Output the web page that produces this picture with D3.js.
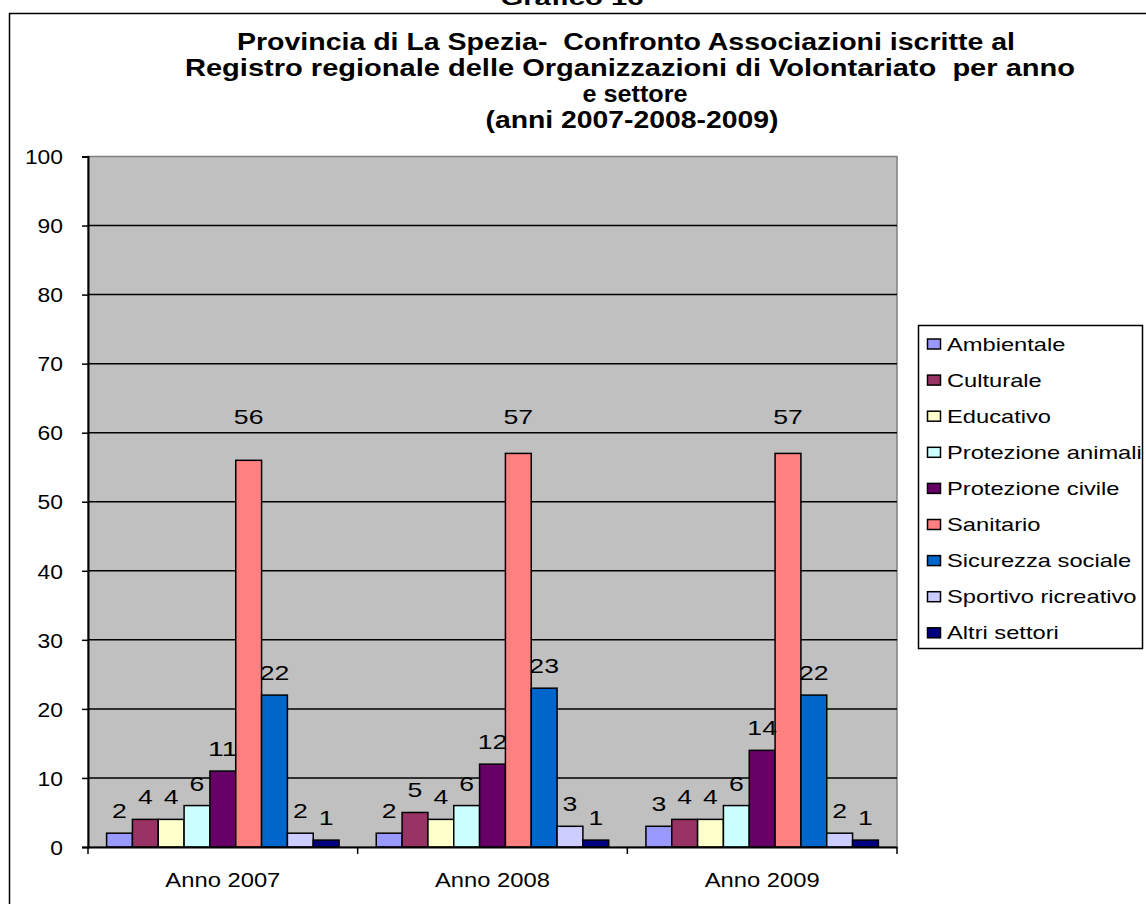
<!DOCTYPE html>
<html>
<head>
<meta charset="utf-8">
<script src="https://cdn.jsdelivr.net/npm/d3@7"></script>
<style>
  body { margin: 0; background: #fff; }
  text { font-family: "Liberation Sans", Arial, sans-serif; fill: #000; white-space: pre; }
</style>
</head>
<body>
<div id="chart"></div>
<script>
// data
const years = ["Anno 2007", "Anno 2008", "Anno 2009"];
const sectors = ["Ambientale", "Culturale", "Educativo", "Protezione animali",
    "Protezione civile", "Sanitario", "Sicurezza sociale", "Sportivo ricreativo", "Altri settori"];
const colors = ["#9999FF", "#993366", "#FFFFCC", "#CCFFFF", "#660066",
    "#FF8080", "#0066CC", "#CCCCFF", "#000080"];
const values2007 = [2, 4, 4, 6, 11, 56, 22, 2, 1];
const values2008 = [2, 5, 4, 6, 12, 57, 23, 3, 1];
const values2009 = [3, 4, 4, 6, 14, 57, 22, 2, 1];
const yTicks = [0, 10, 20, 30, 40, 50, 60, 70, 80, 90, 100];
const titleLines = ["Provincia di La Spezia-  Confronto Associazioni iscritte al",
    "Registro regionale delle Organizzazioni di Volontariato  per anno",
    "e settore",
    "(anni 2007-2008-2009)"];

const allValues = [values2007, values2008, values2009];
const rows = [];
years.forEach((yr, i) => sectors.forEach((s, j) => rows.push({ year: yr, sector: s, value: allValues[i][j], idx: j })));

const W = 1146, H = 904;
const plot = { left: 88, right: 897, top: 156.5, bottom: 847 };

const svg = d3.select("#chart").append("svg")
    .attr("width", W)
    .attr("height", H);

// stretch text horizontally like the source image
function stretch(sel, k) {
    sel.each(function () {
        const L = this.getComputedTextLength();
        d3.select(this).attr("textLength", L * k).attr("lengthAdjust", "spacingAndGlyphs");
    });
}
function fitTo(sel, widths) {
    sel.each(function (d, i) {
        d3.select(this).attr("textLength", widths[i]).attr("lengthAdjust", "spacingAndGlyphs");
    });
}

// outer frame
svg.append("rect")
    .attr("x", 9.5).attr("y", 13.5)
    .attr("width", 1150).attr("height", 900)
    .attr("fill", "none").attr("stroke", "#000").attr("stroke-width", 1.5);

svg.append("text")
    .attr("x", 572).attr("y", 5)
    .attr("text-anchor", "middle")
    .attr("font-size", 20).attr("font-weight", "bold")
    .text("Grafico 16")
    .call(fitTo, [143]);

svg.append("g").selectAll("text")
    .data(titleLines)
    .join("text")
    .attr("x", (d, i) => [626, 630, 635, 632][i])
    .attr("y", (d, i) => 50 + i * 26)
    .attr("text-anchor", "middle")
    .attr("font-size", 23).attr("font-weight", "bold")
    .text(d => d)
    .call(fitTo, [778, 890, 105, 293]);

const x0 = d3.scaleBand()
    .domain(years)
    .range([plot.left, plot.right])
    .padding(0);

const x1 = d3.scaleBand()
    .domain(sectors)
    .range([0, x0.bandwidth()])
    .paddingInner(0)
    .paddingOuter(0.72);

const y = d3.scaleLinear()
    .domain([0, 100])
    .range([plot.bottom, plot.top]);

const color = d3.scaleOrdinal().domain(sectors).range(colors);

// plot background
svg.append("rect")
    .attr("x", plot.left).attr("y", plot.top)
    .attr("width", plot.right - plot.left).attr("height", plot.bottom - plot.top)
    .attr("fill", "#C0C0C0").attr("stroke", "#808080").attr("stroke-width", 1.5);

// gridlines
svg.append("g")
    .selectAll("line")
    .data(yTicks.filter(t => t > 0 && t < 100))
    .join("line")
    .attr("x1", plot.left).attr("x2", plot.right)
    .attr("y1", d => y(d)).attr("y2", d => y(d))
    .attr("stroke", "#000").attr("stroke-width", 1.5);

// y axis
const yAxis = svg.append("g")
    .attr("transform", `translate(${plot.left},0)`)
    .call(d3.axisLeft(y).tickValues(yTicks).tickSize(6).tickPadding(19));
yAxis.select(".domain").attr("stroke", "#000").attr("stroke-width", 2);
yAxis.selectAll(".tick line").attr("stroke", "#000").attr("stroke-width", 1.5);
yAxis.selectAll(".tick text")
    .attr("font-size", 20).attr("font-family", "Liberation Sans, Arial, sans-serif")
    .attr("fill", "#000").attr("dy", "0.36em")
    .each(function (d) {
        d3.select(this).attr("textLength", String(d).length * 12.7).attr("lengthAdjust", "spacingAndGlyphs");
    });

// bars
const groups = svg.append("g")
    .selectAll("g")
    .data(years)
    .join("g")
    .attr("transform", d => `translate(${x0(d)},0)`);

groups.selectAll("rect")
    .data(yr => rows.filter(r => r.year === yr))
    .join("rect")
    .attr("x", d => x1(d.sector))
    .attr("y", d => y(d.value))
    .attr("width", x1.bandwidth())
    .attr("height", d => y(0) - y(d.value))
    .attr("fill", d => color(d.sector))
    .attr("stroke", "#000").attr("stroke-width", 1.5);

// value labels (Sanitario labels sit higher in the source)
groups.selectAll("text")
    .data(yr => rows.filter(r => r.year === yr))
    .join("text")
    .attr("x", d => x1(d.sector) + x1.bandwidth() / 2)
    .attr("y", d => d.sector === "Sanitario" ? y(61.3) : y(d.value) - 15)
    .attr("text-anchor", "middle")
    .attr("font-size", 21)
    .text(d => d.value)
    .each(function (d) {
        d3.select(this).attr("textLength", String(d.value).length * 14.8).attr("lengthAdjust", "spacingAndGlyphs");
    });

// x axis
const xAxis = svg.append("g")
    .attr("transform", `translate(0,${plot.bottom})`)
    .call(d3.axisBottom(x0).tickSize(0).tickPadding(26));
xAxis.select(".domain").attr("stroke", "#000").attr("stroke-width", 2);
xAxis.selectAll(".tick text")
    .attr("font-size", 19.5).attr("font-family", "Liberation Sans, Arial, sans-serif")
    .attr("fill", "#000")
    .attr("textLength", 115).attr("lengthAdjust", "spacingAndGlyphs");

svg.append("g")
    .selectAll("line")
    .data(years.concat("end"))
    .join("line")
    .attr("x1", d => d === "end" ? plot.right : x0(d))
    .attr("x2", d => d === "end" ? plot.right : x0(d))
    .attr("y1", plot.bottom).attr("y2", plot.bottom + 7)
    .attr("stroke", "#000").attr("stroke-width", 1.5);

// legend
const legend = svg.append("g");
legend.append("rect")
    .attr("x", 918.5).attr("y", 325.5)
    .attr("width", 224).attr("height", 323)
    .attr("fill", "#fff").attr("stroke", "#000").attr("stroke-width", 1.5);

const item = legend.selectAll("g.item")
    .data(sectors)
    .join("g")
    .attr("class", "item")
    .attr("transform", (d, i) => `translate(0,${344 + i * 36.1})`);

item.append("rect")
    .attr("x", 927.5).attr("y", -5)
    .attr("width", 13).attr("height", 10)
    .attr("fill", d => color(d))
    .attr("stroke", "#000").attr("stroke-width", 1.5);

item.append("text")
    .attr("x", 947).attr("y", 6.5)
    .attr("font-size", 18.5)
    .text(d => d)
    .call(stretch, 1.28);
</script>
</body>
</html>
